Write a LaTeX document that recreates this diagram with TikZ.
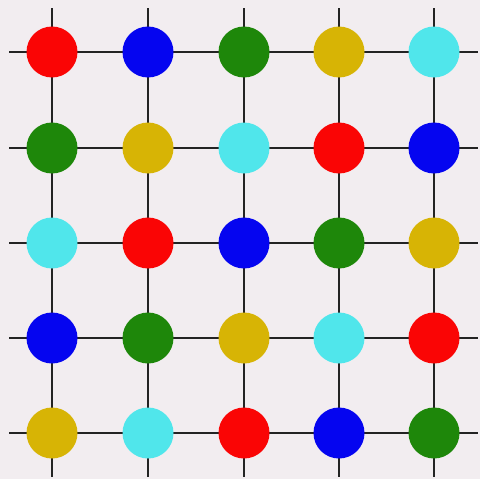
\documentclass[tikz,border=0pt]{standalone}
\definecolor{bg}{RGB}{242,237,240}
\definecolor{cR}{RGB}{250,5,5}
\definecolor{cB}{RGB}{5,5,240}
\definecolor{cG}{RGB}{30,135,10}
\definecolor{cY}{RGB}{215,180,5}
\definecolor{cC}{RGB}{80,230,235}
\definecolor{ln}{RGB}{35,35,35}
\begin{document}
\begin{tikzpicture}[x=1pt,y=-1pt,
  gridline/.style={ln,line width=2.6pt},
  dot/.style={circle,inner sep=0pt,minimum size=51pt,fill=#1}]
\fill[bg] (0,0) rectangle (480,479);
\useasboundingbox (0,0) rectangle (480,479);
\def\xs{{52,148,244,339,434}}
\foreach \i/\x in {0/52,1/148,2/244,3/339,4/434}{
  \draw[gridline] (\x,8) -- (\x,477);
}
\foreach \j/\y in {0/52,1/148,2/243,3/338,4/433}{
  \draw[gridline] (9,\y) -- (478,\y);
}
\foreach \y/\row/\cols in {52/1/{cR,cB,cG,cY,cC},148/2/{cG,cY,cC,cR,cB},243/3/{cC,cR,cB,cG,cY},338/4/{cB,cG,cY,cC,cR},433/5/{cY,cC,cR,cB,cG}}{
  \foreach \c [count=\k] in \cols {
    \pgfmathsetmacro{\xx}{{52,148,244,339,434}[\k-1]}
    \node[dot=\c] (d\row\k) at (\xx,\y) {};
  }
}
\end{tikzpicture}
\end{document}
